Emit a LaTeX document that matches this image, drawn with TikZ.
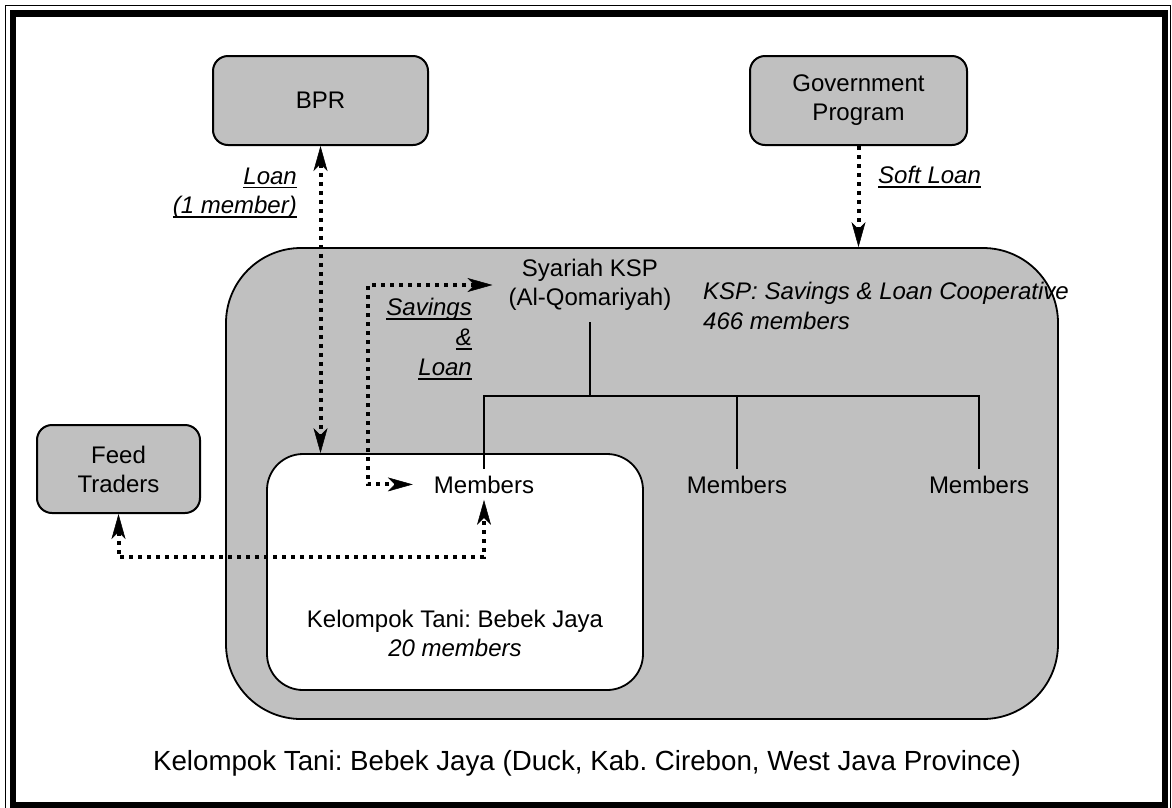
\documentclass[tikz,border=0pt]{standalone}
\usepackage{fontspec}
\setmainfont{Liberation Sans}
\usetikzlibrary{arrows.meta,calc}
\definecolor{boxgray}{RGB}{192,192,192}
\newcommand\myul[1]{\leavevmode\setbox0\hbox{#1}\rlap{\rule[-4pt]{\wd0}{1.5pt}}\box0}
\frenchspacing
\begin{document}
\frenchspacing
\begin{tikzpicture}[x=1pt,y=-1pt,
  >={Stealth[length=25pt,width=14pt,inset=7pt,line width=0.5pt]},
  box/.style={draw, line width=2pt, fill=boxgray, rounded corners=15pt, align=center, inner sep=0pt,
    font=\fontsize{24}{29}\selectfont},
  lbl/.style={font=\fontsize{24}{29}\selectfont, align=center, inner sep=0pt},
  ilbl/.style={font=\fontsize{24}{29.5}\selectfont\itshape, inner sep=0pt},
  dotline/.style={line width=4pt, dash pattern=on 4pt off 5pt},
  treeline/.style={line width=2pt}
]
\useasboundingbox (0,0) rectangle (1172,807);
% frame
\draw[line width=1.3pt] (5.5,5.5) rectangle (1170.5,812);
\draw[line width=6.5pt] (13,13.5) rectangle (1165,805);

% big KSP box and farmer group box
\node[draw, line width=1.8pt, fill=boxgray, rounded corners=75pt, minimum width=832pt, minimum height=471pt] (ksp) at (642,483.5) {};
\node[draw, line width=1.8pt, fill=white, rounded corners=36pt, minimum width=376pt, minimum height=236pt] (tani) at (455,572) {};

% outside boxes
\node[box, minimum width=215pt, minimum height=89pt] (bpr) at (320.5,100.5) {BPR};
\node[box, minimum width=217pt, minimum height=89pt] (gov) at (858.5,100.5) {Government\\Program};
\node[box, minimum width=163pt, minimum height=88pt] (feed) at (118.5,469) {Feed\\Traders};

% texts
\node[lbl] (syariah) at (590,285) {Syariah KSP\\(Al-Qomariyah)};
\node[ilbl, anchor=west, align=left] (ksplbl) at (703,306) {KSP: Savings \& Loan Cooperative\\466 members};
\node[lbl, anchor=base, inner sep=6.5pt] (m1) at (484,493) {Members};
\node[lbl, anchor=base, inner sep=6.5pt] (m2) at (737,493) {Members};
\node[lbl, anchor=base, inner sep=6.5pt] (m3) at (979,493) {Members};
\node[lbl] (tanilbl) at (455,633) {Kelompok Tani: Bebek Jaya\\\itshape 20 members};
\node[font=\fontsize{27.7}{32}\selectfont, inner sep=0pt] (caption) at (587,763) {Kelompok Tani: Bebek Jaya (Duck, Kab. Cirebon, West Java Province)};

% connector labels
\node[ilbl, anchor=east, align=right] (loanlbl) at (297,193) {\myul{Loan}\\\myul{(1 member)}};
\node[ilbl, anchor=west, align=left] (softlbl) at (878,177) {\myul{Soft Loan}};
\node[ilbl, anchor=east, align=right, font=\fontsize{24}{30}\selectfont\itshape] (savlbl) at (472,339) {\myul{Savings}\\\myul{\&}\\\myul{Loan}};

% tree
\coordinate (stem) at (590,322);
\coordinate (bus) at (590,396);
\draw[treeline] (stem) -- (bus);
\draw[treeline] (m1.north) |- (bus) -| (m3.north);
\draw[treeline] (m2.north) -- (m2.north |- bus);

% dotted connectors
\draw[dotline,<->] (bpr.south) -- (bpr.south |- tani.north);
\draw[dotline,->] (gov.south) -- (gov.south |- ksp.north);
\draw[dotline,<->] ([xshift=-16pt]syariah.west) -| ($(m1.west)+(-59.5,0)$) -- ([xshift=-14.5pt]m1.west);
\draw[dotline,<->] (feed.south) |- ($(m1.south)+(0,57)$) -- (m1.south);
\end{tikzpicture}
\end{document}
